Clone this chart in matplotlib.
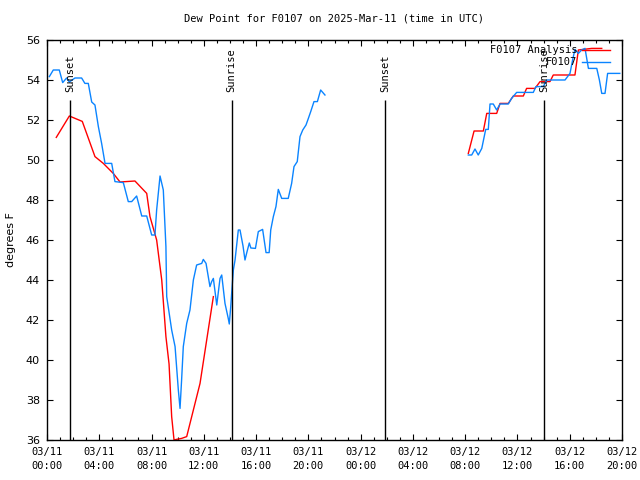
import matplotlib
matplotlib.use("Agg")
import matplotlib.pyplot as plt
from matplotlib.lines import Line2D

# ---- data (hours since 03/11 00:00 UTC, dew point in F) ----
obs1_h = [0.18, 0.48, 0.94, 1.2, 1.5, 1.71, 2.14, 2.65, 2.9, 3.16, 3.42, 3.67, 3.93, 4.18,
          4.44, 4.95, 5.2, 5.84, 6.22, 6.48, 6.86, 7.25, 7.63, 8.01, 8.26, 8.39, 8.65, 8.9,
          9.1, 9.16, 9.54, 9.8, 10.05, 10.18, 10.3, 10.43, 10.69, 10.94, 11.2, 11.45, 11.84,
          11.96, 12.17, 12.34, 12.47, 12.6, 12.73, 12.99, 13.24, 13.37, 13.62, 13.87, 13.95,
          14.06, 14.13, 14.26, 14.39, 14.64, 14.77, 15.0, 15.15, 15.3, 15.48, 15.6, 15.95,
          16.17, 16.5, 16.76, 17.0, 17.12, 17.32, 17.52, 17.7, 17.96, 18.46, 18.72, 18.9,
          19.15, 19.36, 19.57, 19.82, 20.0, 20.18, 20.43, 20.69, 20.94, 21.27]
obs1_v = [54.17, 54.5, 54.5, 53.87, 54.1, 53.9, 54.1, 54.1, 53.83, 53.83, 52.9, 52.75, 51.67,
          50.83, 49.83, 49.83, 48.92, 48.87, 47.92, 47.92, 48.2, 47.2, 47.2, 46.25, 46.25,
          47.5, 49.2, 48.5, 45.67, 43.17, 41.5, 40.67, 38.5, 37.58, 39.0, 40.67, 41.83, 42.5,
          44.0, 44.75, 44.83, 45.03, 44.83, 44.17, 43.67, 43.92, 44.08, 42.75, 44.08, 44.25,
          42.83, 42.08, 41.8, 42.67, 43.33, 44.5, 45.0, 46.5, 46.5, 45.7, 45.0, 45.4, 45.85,
          45.6, 45.58, 46.42, 46.53, 45.37, 45.37, 46.5, 47.17, 47.67, 48.53, 48.08, 48.08,
          48.83, 49.67, 49.92, 51.17, 51.5, 51.75, 52.08, 52.42, 52.92, 52.92, 53.5, 53.25]

obs2_h = [32.24, 32.5, 32.75, 33.0, 33.27, 33.57, 33.77, 33.9, 34.15, 34.41, 34.67, 35.3,
          35.55, 35.94, 37.21, 37.42, 37.98, 38.24, 39.64, 40.02, 40.22, 40.4, 40.66, 40.91,
          41.17, 41.43, 42.07, 42.27, 42.45, 42.7, 42.9, 43.83]
obs2_v = [50.25, 50.25, 50.55, 50.25, 50.58, 51.53, 51.53, 52.8, 52.8, 52.5, 52.8, 52.8,
          53.08, 53.38, 53.38, 53.67, 53.67, 54.0, 54.0, 54.33, 55.0, 55.53, 55.33, 55.5,
          55.58, 54.58, 54.58, 54.0, 53.33, 53.33, 54.33, 54.33]

ana1_h = [0.71, 1.71, 2.70, 3.67, 4.31, 5.07, 5.59, 6.73, 7.63, 7.88, 8.39, 8.78, 9.1, 9.34,
          9.54, 9.72, 9.9, 10.3, 10.69, 11.2, 11.71, 12.22, 12.73]
ana1_v = [51.13, 52.2, 51.93, 50.17, 49.83, 49.33, 48.9, 48.95, 48.33, 47.17, 46.0, 44.0,
          41.17, 39.8, 37.17, 36.0, 36.03, 36.08, 36.17, 37.5, 38.83, 41.0, 43.17]

ana2_h = [32.24, 32.68, 33.39, 33.65, 34.41, 34.67, 35.3, 35.68, 36.45, 36.7, 37.34, 37.73,
          38.49, 38.74, 40.4, 40.66, 41.04, 41.68, 42.45]
ana2_v = [50.33, 51.45, 51.45, 52.33, 52.33, 52.83, 52.83, 53.2, 53.2, 53.58, 53.58, 53.92,
          53.92, 54.25, 54.25, 55.5, 55.53, 55.58, 55.58]

sun_h = [1.78, 14.13, 25.86, 38.05]
sun_labels = ["Sunset", "Sunrise", "Sunset", "Sunrise"]

xtick_h = [0, 4, 8, 12, 16, 20, 24, 28, 32, 36, 40, 44]
xtick_labels = ["03/11\n00:00", "03/11\n04:00", "03/11\n08:00", "03/11\n12:00",
                "03/11\n16:00", "03/11\n20:00", "03/12\n00:00", "03/12\n04:00",
                "03/12\n08:00", "03/12\n12:00", "03/12\n16:00", "03/12\n20:00"]
ytick_v = [36, 38, 40, 42, 44, 46, 48, 50, 52, 54, 56]

RED = "#ff0000"
BLUE = "#0a84ff"
MONO = "DejaVu Sans Mono"

fig = plt.figure(figsize=(6.4, 4.8), dpi=100)
ax = fig.add_axes([47 / 640, 1 - 440 / 480, 575 / 640, 400 / 480])

ax.plot(ana1_h, ana1_v, color=RED, lw=1.0)
ax.plot(ana2_h, ana2_v, color=RED, lw=1.0)
ax.plot(obs1_h, obs1_v, color=BLUE, lw=1.0)
ax.plot(obs2_h, obs2_v, color=BLUE, lw=1.0)

ax.vlines(sun_h, 36, 53, color="black", lw=1.0)
for h, lab in zip(sun_h, sun_labels):
    ax.text(h, 53.4, lab, rotation=90, ha="center", va="bottom",
            fontsize=7.5, family=MONO)

ax.set_xlim(0, 44)
ax.set_ylim(36, 56)
ax.set_xticks(xtick_h)
ax.set_xticklabels(xtick_labels, family=MONO, fontsize=7.5, linespacing=1.5)
ax.set_xticks(range(0, 45), minor=True)
ax.set_yticks(ytick_v)
ax.set_yticklabels([str(v) for v in ytick_v], fontsize=8)
ax.tick_params(axis="both", which="major", direction="in", length=4.5, width=0.8,
               top=True, right=True, pad=5)
ax.tick_params(axis="x", which="minor", direction="in", length=2.3, width=0.8,
               top=True, bottom=True)
ax.tick_params(axis="y", which="minor", left=False, right=False)
for s in ax.spines.values():
    s.set_linewidth(1.0)

ax.set_ylabel("degrees F", fontsize=8, labelpad=7)
ax.set_title("Dew Point for F0107 on 2025-Mar-11 (time in UTC)",
             family=MONO, fontsize=7.5, pad=13)

# manual legend (gnuplot style: text right-aligned, sample line to its right)
leg_items = [("F0107 Analysis", RED, 0.975), ("F0107", BLUE, 0.945)]
for txt, col, yy in leg_items:
    ax.text(0.922, yy, txt, transform=ax.transAxes, ha="right", va="center",
            family=MONO, fontsize=7.5)
    ax.add_line(Line2D([0.930, 0.979], [yy, yy], transform=ax.transAxes,
                       color=col, lw=1.0))

fig.savefig("out.png", dpi=100)
